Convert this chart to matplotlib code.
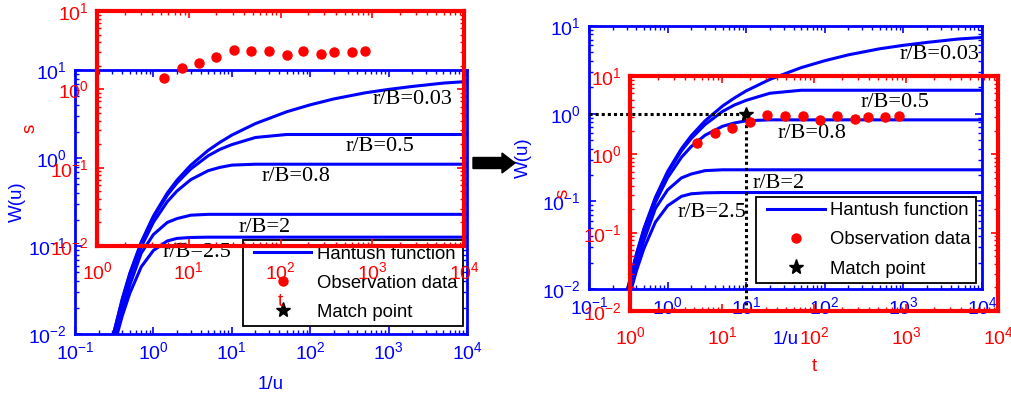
import numpy as np
import matplotlib
matplotlib.use('Agg')
import matplotlib.pyplot as plt
import matplotlib.transforms as mtransforms
from matplotlib.lines import Line2D
from matplotlib.legend_handler import HandlerLine2D
from matplotlib.patches import FancyArrow
from matplotlib.ticker import LogLocator, NullFormatter

plt.rcParams['font.family'] = ['Liberation Sans', 'DejaVu Sans']
plt.rcParams['mathtext.fontset'] = 'custom'
plt.rcParams['mathtext.rm'] = 'Liberation Sans'
plt.rcParams['mathtext.it'] = 'Liberation Sans:italic'
plt.rcParams['mathtext.bf'] = 'Liberation Sans:bold'
plt.rcParams['mathtext.default'] = 'regular'
plt.rcParams['axes.unicode_minus'] = False

# ========== data ==========
inv_u = [0.3, 0.4, 0.5, 0.7, 1, 1.5, 2, 3, 5, 7, 10, 20, 50, 100,
         200, 500, 1000, 2000, 5000, 10000]
w_rb003 = [0.0089, 0.0249, 0.0489, 0.111, 0.219, 0.399, 0.560, 0.829, 1.222, 1.50,
           1.82, 2.46, 3.35, 4.02, 4.69, 5.50, 6.02, 6.50, 7.10, 7.40]
w_rb05 = [0.0088, 0.0244, 0.0478, 0.108, 0.211, 0.377, 0.521, 0.752, 1.06, 1.25,
          1.42, 1.71, 1.85, 1.85, 1.85, 1.85, 1.85, 1.85, 1.85, 1.85]
w_rb08 = [0.0084, 0.0231, 0.0445, 0.098, 0.186, 0.318, 0.422, 0.568, 0.718, 0.781,
          0.83, 0.85, 0.85, 0.85, 0.85, 0.85, 0.85, 0.85, 0.85, 0.85]
w_rb2 = [0.0075, 0.0185, 0.036, 0.083, 0.135, 0.185, 0.205, 0.224, 0.229, 0.229,
         0.229, 0.229, 0.229, 0.229, 0.229, 0.229, 0.229, 0.229, 0.229, 0.229]
w_rb25 = [0.0063, 0.016, 0.029, 0.058, 0.089, 0.114, 0.122, 0.125, 0.126, 0.126,
          0.126, 0.126, 0.126, 0.126, 0.126, 0.126, 0.126, 0.126, 0.126, 0.126]
curve_labels = ['r/B=0.03', 'r/B=0.5', 'r/B=0.8', 'r/B=2', 'r/B=2.5']

t_obs = [5.4, 8.4, 13, 20, 31, 48, 75, 117, 177, 276, 383, 597, 834]
s_obs = [1.39, 1.87, 2.17, 2.59, 3.22, 3.08, 3.08, 2.78, 3.08, 2.82, 2.99, 2.99, 3.13]

match_inv_u = 10
match_w = 1

legend_labels = ['Hantush function', 'Observation data', 'Match point']

BLUE = '#0000ff'
RED = '#ff0000'
W, H = 1011, 396
DOTS = (0, (1, 1))


def rect(x0, y0, x1, y1):
    # pixel box (top-left origin) -> figure fraction
    return [x0 / W, (H - y1) / H, (x1 - x0) / W, (y1 - y0) / H]


def style_axes(ax, color, lw, xlim, ylim, xpad):
    ax.set_xscale('log')
    ax.set_yscale('log')
    ax.set_xlim(xlim)
    ax.set_ylim(ylim)
    for sp in ax.spines.values():
        sp.set_color(color)
        sp.set_linewidth(lw)
    for axis in (ax.xaxis, ax.yaxis):
        axis.set_major_locator(LogLocator(base=10))
        axis.set_minor_locator(LogLocator(base=10, subs=np.arange(2, 10), numticks=20))
        axis.set_minor_formatter(NullFormatter())
    ax.tick_params(which='both', direction='in', top=True, right=True,
                   colors=color, labelsize=14)
    ax.tick_params(which='major', length=5, width=1.2)
    ax.tick_params(which='minor', length=3, width=1.0)
    ax.tick_params(axis='x', pad=xpad)
    ax.tick_params(axis='y', pad=6)


def draw_panel(fig, blue_box, red_box, label_pos, wlab_x, slab_x, leg_anchor, match=False):
    axb = fig.add_axes(rect(*blue_box))
    style_axes(axb, BLUE, 2.0, (1e-1, 1e4), (1e-2, 1e1), 5)
    for w in (w_rb003, w_rb05, w_rb08, w_rb2, w_rb25):
        axb.plot(inv_u, w, color=BLUE, lw=2.2)
    for lab, (lx, ly) in zip(curve_labels, label_pos):
        axb.text(lx, ly, lab, transform=axb.transAxes, ha='left', va='center',
                 fontsize=16, family='Liberation Serif', color='k')
    axb.set_xlabel('1/u', color=BLUE, fontsize=13.5)
    axb.set_ylabel('W(u)', color=BLUE, fontsize=13.5)
    axb.xaxis.set_label_coords(0.5, -0.16)
    axb.yaxis.set_label_coords(wlab_x, 0.5)

    handles = [Line2D([], [], color=BLUE, lw=2.2),
               Line2D([], [], color=RED, marker='o', ls='none', ms=6.5),
               Line2D([], [], color='k', marker='*', ls='none', ms=11)]
    leg = axb.legend(handles, legend_labels, loc='upper right', bbox_to_anchor=leg_anchor,
                     borderaxespad=0, fontsize=13.3, frameon=True, fancybox=False,
                     framealpha=1, edgecolor='k', borderpad=0.3, labelspacing=0.65,
                     handlelength=3.4, handletextpad=0.3,
                     handler_map={Line2D: HandlerLine2D(xpad=0.3)})
    leg.get_frame().set_linewidth(1.3)

    if match:
        axb.plot([axb.get_xlim()[0], match_inv_u], [match_w, match_w], color='k',
                 lw=2.2, ls=DOTS, zorder=4)
        axb.plot([match_inv_u], [match_w], marker='*', color='k', ms=10, ls='none',
                 zorder=6, clip_on=False)

    axr = fig.add_axes(rect(*red_box))
    axr.set_facecolor('none')
    style_axes(axr, RED, 3.0, (1e0, 1e4), (1e-2, 1e1), 11)
    axr.plot(t_obs, s_obs, 'o', color=RED, ms=6.5, clip_on=False)
    axr.set_xlabel('t', color=RED, fontsize=13.5)
    axr.set_ylabel('s', color=RED, fontsize=13.5)
    axr.xaxis.set_label_coords(0.5, -0.2)
    axr.yaxis.set_label_coords(slab_x, 0.5)

    if match:
        # vertical dotted line: from the match point down to the bottom of the red frame
        star_disp = axb.transData.transform((match_inv_u, match_w))
        star_frac = axr.transAxes.inverted().transform(star_disp)[1]
        trans = mtransforms.blended_transform_factory(axb.transData, axr.transAxes)
        axr.plot([match_inv_u, match_inv_u], [0, star_frac], transform=trans,
                 color='k', lw=2.2, ls=DOTS, clip_on=False, zorder=1)
    return axb, axr


fig = plt.figure(figsize=(W / 100, H / 100), dpi=100)

left_labels = [(0.760, 0.890), (0.689, 0.712), (0.477, 0.595), (0.416, 0.402), (0.224, 0.307)]
right_labels = [(0.789, 0.890), (0.690, 0.711), (0.481, 0.593), (0.415, 0.403), (0.226, 0.289)]

draw_panel(fig, (75, 70, 467, 334), (97, 11, 464, 246), left_labels,
           -0.125, -0.158, (0.99, 0.356))
draw_panel(fig, (589, 26, 982, 289), (630, 76, 998, 311), right_labels,
           -0.145, -0.158, (0.985, 0.35), match=True)

# arrow between the panels
fig.add_artist(FancyArrow(4.73, 2.33, 0.42, 0, width=0.11, head_width=0.2, head_length=0.13,
                          length_includes_head=True, color='k',
                          transform=fig.dpi_scale_trans))

fig.savefig('out.png', dpi=100)
